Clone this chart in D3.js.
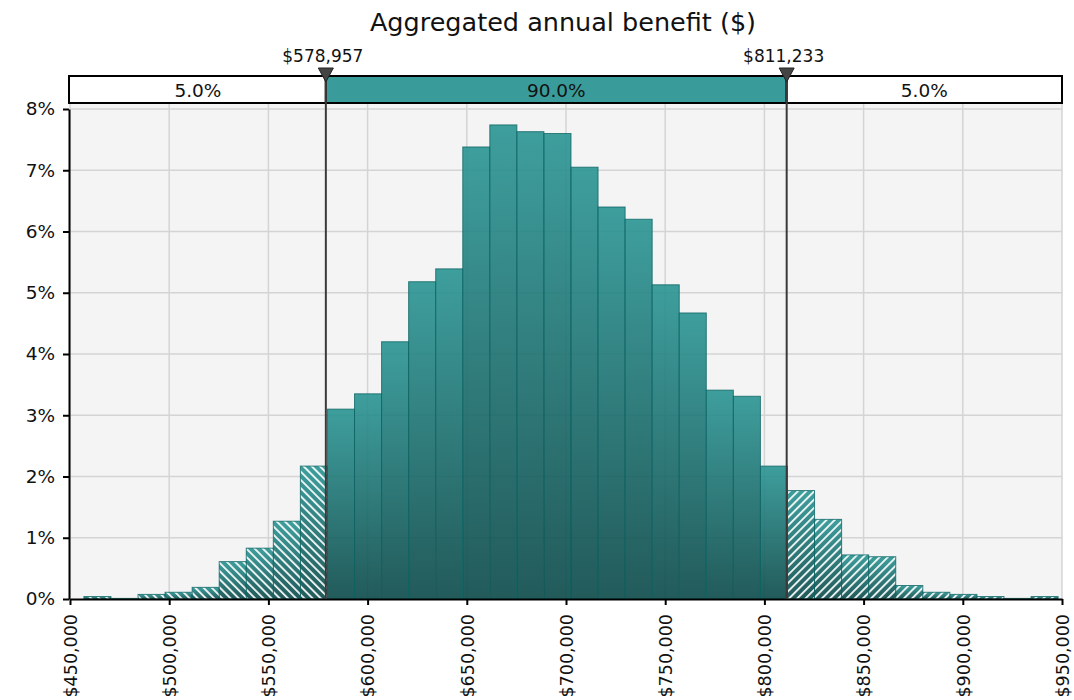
<!DOCTYPE html>
<html>
<head>
<meta charset="utf-8">
<script src="https://cdn.jsdelivr.net/npm/d3@7/dist/d3.min.js"></script>
<style>
  html, body { margin: 0; padding: 0; background: #ffffff; }
  svg { display: block; font-family: "DejaVu Sans", Verdana, sans-serif; }
</style>
</head>
<body>
<svg id="chart" width="1074" height="700"></svg>
<script>
// ---- data ----
const title = "Aggregated annual benefit ($)";
const binStart = 457000;
const binWidth = 13640;
const binPercents = [
  0.04, 0.01, 0.075, 0.11, 0.19, 0.61, 0.83, 1.27, 2.17,
  3.10, 3.35, 4.20, 5.18, 5.39, 7.38, 7.74, 7.63, 7.60, 7.05,
  6.40, 6.20, 5.13, 4.67, 3.41, 3.31, 2.17,
  1.77, 1.30, 0.72, 0.69, 0.22, 0.11, 0.075, 0.04, 0.01, 0.04
];
const percentileValues = [578957, 811233];
const percentileLabels = ["$578,957", "$811,233"];
const bandLabels = ["5.0%", "90.0%", "5.0%"];
const xTicks = [450000, 500000, 550000, 600000, 650000, 700000, 750000, 800000, 850000, 900000, 950000];
const yTicks = [0, 1, 2, 3, 4, 5, 6, 7, 8];

// ---- layout ----
const svg = d3.select("#chart");
const mLeft = 70, mRight = 1062, mTop = 109, mBottom = 599;
const x = d3.scaleLinear().domain([450000, 950000]).range([mLeft, mRight]);
const y = d3.scaleLinear().domain([0, 8]).range([mBottom, mTop]);

const bins = binPercents.map((v, i) => ({
  x0: binStart + i * binWidth,
  x1: binStart + (i + 1) * binWidth,
  v: v
}));
bins.forEach(b => {
  const mid = (b.x0 + b.x1) / 2;
  b.zone = mid < percentileValues[0] ? "left" : (mid > percentileValues[1] ? "right" : "mid");
});

// ---- defs ----
const defs = svg.append("defs");
const grad = defs.append("linearGradient").attr("id", "barGrad")
  .attr("x1", 0).attr("y1", 0).attr("x2", 0).attr("y2", 1);
grad.append("stop").attr("offset", "0%").attr("stop-color", "#2a9593");
grad.append("stop").attr("offset", "100%").attr("stop-color", "#0c4a4a");

function hatch(id, angle) {
  const p = defs.append("pattern").attr("id", id)
    .attr("patternUnits", "userSpaceOnUse")
    .attr("width", 5.8).attr("height", 10)
    .attr("patternTransform", `rotate(${angle})`);
  p.append("rect").attr("x", 0).attr("y", 0).attr("width", 1.8).attr("height", 10)
    .attr("fill", "#ffffff").attr("fill-opacity", 0.95);
}
hatch("hatchLeft", -45);
hatch("hatchRight", 45);

// ---- title ----
svg.append("text").attr("x", 563).attr("y", 31)
  .attr("text-anchor", "middle").attr("font-size", 25.5).attr("fill", "#111")
  .text(title);

// ---- plot background ----
svg.append("rect").attr("x", mLeft).attr("y", 104)
  .attr("width", mRight - mLeft).attr("height", mBottom - 104)
  .attr("fill", "#f4f4f4");

// gridlines
svg.append("g").selectAll("line").data(xTicks).join("line")
  .attr("x1", d => x(d)).attr("x2", d => x(d))
  .attr("y1", 104).attr("y2", mBottom)
  .attr("stroke", "#d4d4d4").attr("stroke-width", 1.5);
svg.append("g").selectAll("line").data(yTicks.slice(1)).join("line")
  .attr("x1", mLeft).attr("x2", mRight)
  .attr("y1", d => y(d)).attr("y2", d => y(d))
  .attr("stroke", "#d4d4d4").attr("stroke-width", 1.5);

// ---- bars ----
const barG = svg.append("g");
barG.selectAll("rect.bar").data(bins).join("rect").attr("class", "bar")
  .attr("x", d => x(d.x0)).attr("width", d => x(d.x1) - x(d.x0))
  .attr("y", d => y(d.v)).attr("height", d => y(0) - y(d.v))
  .attr("fill", "url(#barGrad)").attr("fill-opacity", 0.9)
  .attr("stroke", "#0a6262").attr("stroke-opacity", 0.75).attr("stroke-width", 1);
barG.selectAll("rect.hatch").data(bins.filter(b => b.zone !== "mid")).join("rect").attr("class", "hatch")
  .attr("x", d => x(d.x0) + 0.5).attr("width", d => x(d.x1) - x(d.x0) - 1)
  .attr("y", d => y(d.v) + 0.5).attr("height", d => Math.max(0, y(0) - y(d.v) - 1))
  .attr("fill", d => d.zone === "left" ? "url(#hatchLeft)" : "url(#hatchRight)");

// ---- axes ----
const xAxis = svg.append("g").attr("transform", `translate(0,${mBottom})`)
  .call(d3.axisBottom(x).tickValues(xTicks).tickSize(6).tickSizeOuter(0)
    .tickFormat(d => "$" + d3.format(",")(d)));
xAxis.select(".domain").attr("stroke", "#000").attr("stroke-width", 2);
xAxis.selectAll(".tick line").attr("stroke", "#000").attr("stroke-width", 2);
xAxis.selectAll(".tick text")
  .attr("font-size", 17.5).attr("font-family", "DejaVu Sans, sans-serif").attr("fill", "#111")
  .attr("text-anchor", "end").attr("transform", "rotate(-90)")
  .attr("x", -15).attr("y", 0).attr("dy", "0.36em");

const yAxis = svg.append("g").attr("transform", `translate(${mLeft - 1},0)`)
  .call(d3.axisLeft(y).tickValues(yTicks).tickSize(6).tickSizeOuter(0)
    .tickFormat(d => d + "%"));
yAxis.select(".domain").attr("stroke", "#000").attr("stroke-width", 2);
yAxis.selectAll(".tick line").attr("stroke", "#000").attr("stroke-width", 2);
yAxis.selectAll(".tick text")
  .attr("font-size", 18.5).attr("font-family", "DejaVu Sans, sans-serif").attr("fill", "#111")
  .attr("x", -14);

// ---- percentile band ----
const bandTop = 76, bandH = 27;
const edges = [450000, percentileValues[0], percentileValues[1], 950000];
const bandG = svg.append("g");
bandG.selectAll("rect").data([0, 1, 2]).join("rect")
  .attr("x", i => x(edges[i]) - (i === 0 ? 1 : 0))
  .attr("width", i => x(edges[i + 1]) - x(edges[i]) + (i === 0 ? 1 : 0))
  .attr("y", bandTop).attr("height", bandH)
  .attr("fill", i => i === 1 ? "#3a9c9a" : "#ffffff")
  .attr("stroke", "#000").attr("stroke-width", 2);
bandG.selectAll("text").data([0, 1, 2]).join("text")
  .attr("x", i => (x(edges[i]) + x(edges[i + 1])) / 2)
  .attr("y", 97).attr("text-anchor", "middle")
  .attr("font-size", 18.5).attr("fill", "#111")
  .text(i => bandLabels[i]);

// ---- percentile lines, markers, labels ----
const pG = svg.append("g");
pG.selectAll("line").data(percentileValues).join("line")
  .attr("x1", d => x(d)).attr("x2", d => x(d))
  .attr("y1", bandTop).attr("y2", mBottom)
  .attr("stroke", "#3a3a3a").attr("stroke-width", 2);
pG.selectAll("path").data(percentileValues).join("path")
  .attr("d", d => `M${x(d) - 7.5},68 L${x(d) + 7.5},68 L${x(d)},82 Z`)
  .attr("fill", "#444").attr("stroke", "#222").attr("stroke-width", 1);
pG.selectAll("text").data(percentileValues).join("text")
  .attr("x", d => x(d) - 3).attr("y", 62).attr("text-anchor", "middle")
  .attr("font-size", 17).attr("fill", "#111")
  .text((d, i) => percentileLabels[i]);
</script>
</body>
</html>
